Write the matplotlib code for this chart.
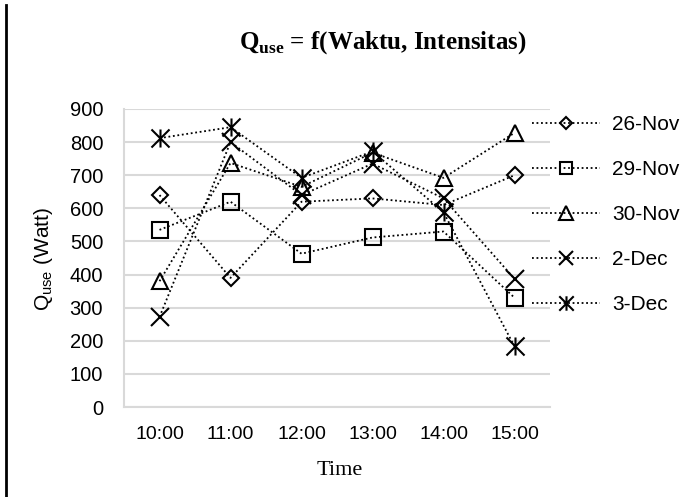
import matplotlib.pyplot as plt
from matplotlib.path import Path
from matplotlib.lines import Line2D

plt.rcParams['mathtext.fontset'] = 'custom'
plt.rcParams['mathtext.rm'] = 'Liberation Serif'
plt.rcParams['mathtext.bf'] = 'Liberation Serif:bold'

# Q_use per jam untuk tiap tanggal pengukuran
times = ['10:00', '11:00', '12:00', '13:00', '14:00', '15:00']
nov26 = [640, 390, 620, 630, 610, 700]
nov29 = [535, 620, 463, 512, 530, 330]
nov30 = [380, 737, 665, 768, 692, 828]
dec2 = [272, 800, 640, 735, 630, 387]
dec3 = [812, 845, 692, 772, 588, 183]
labels = ['26-Nov', '29-Nov', '30-Nov', '2-Dec', '3-Dec']

# marker bintang ala Excel: X + garis vertikal
star = Path([(0, -1), (0, 1), (-1, -1), (1, 1), (-1, 1), (1, -1)],
            [Path.MOVETO, Path.LINETO, Path.MOVETO, Path.LINETO, Path.MOVETO, Path.LINETO])

styles = [('D', 8.2), ('s', 11), ('^', 12), ('x', 13), (star, 13)]
series = [nov26, nov29, nov30, dec2, dec3]

fig = plt.figure(figsize=(6.98, 4.97), dpi=100)
ax = fig.add_axes([0.1777, 0.181, 0.6103, 0.5997])

x = list(range(len(times)))
for vals, (m, ms), lab in zip(series, styles, labels):
    ax.plot(x, vals, ls=(0, (1, 1.5)), lw=1.3, color='black', marker=m, ms=ms,
            mfc='none', mec='black', mew=1.5, label=lab)

ax.set_xlim(-0.5, 5.5)
ax.set_ylim(0, 900)
ax.set_yticks(range(0, 901, 100))
ax.set_xticks(x)
ax.set_xticklabels(times, fontfamily='Liberation Sans', fontsize=14)
for t in ax.get_yticklabels():
    t.set_fontfamily('Liberation Sans')
    t.set_fontsize(14.5)
ax.tick_params(axis='both', length=0)
ax.tick_params(axis='y', pad=15)
ax.tick_params(axis='x', pad=14)
ax.grid(axis='y', color='#d9d9d9', lw=1.5)
ax.set_axisbelow(True)
for s in ['top', 'right']:
    ax.spines[s].set_visible(False)
for s in ['left', 'bottom']:
    ax.spines[s].set_color('#d9d9d9')
    ax.spines[s].set_linewidth(1.5)

fig.text(0.063, 0.479, r'Q$_{\mathregular{use}}$ (Watt)', rotation=90, ha='center', va='center',
         fontfamily='Liberation Sans', fontsize=15)
fig.text(0.486, 0.054, 'Time', ha='center', va='center',
         fontfamily='Liberation Serif', fontsize=16)
fig.text(0.549, 0.915, r'Q$_{\mathbf{use}}$ = f(Waktu, Intensitas)', ha='center', va='center',
         fontfamily='Liberation Serif', fontweight='bold', fontsize=18)

fig.legend(loc='upper left', bbox_to_anchor=(0.7355, 0.806), frameon=False,
           prop={'family': 'Liberation Sans', 'size': 15}, handlelength=3.27,
           handletextpad=0.58, labelspacing=1.25, markerscale=0.8)

# garis tepi kiri
fig.add_artist(Line2D([0.008, 0.008], [0, 0.99], color='black', lw=2))

fig.savefig('out.png', dpi=100)
